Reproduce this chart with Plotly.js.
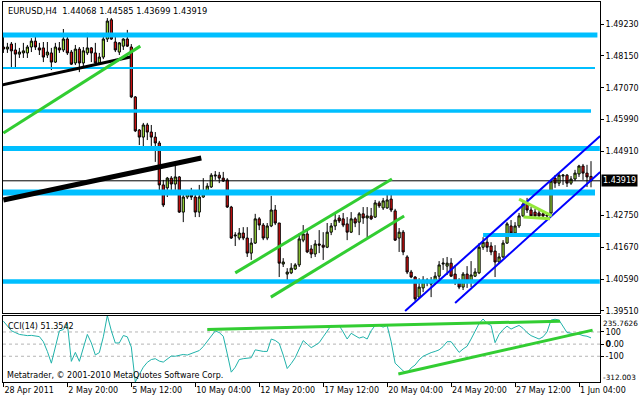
<!DOCTYPE html>
<html><head><meta charset="utf-8">
<script src="https://cdn.plot.ly/plotly-3.0.1.min.js"></script>
<style>html,body{margin:0;padding:0;background:#fff;overflow:hidden}#chart{width:640px;height:400px}</style>
</head><body><div id="chart"></div>
<script>
// ---------- data ----------
const symbolTitle = 'EURUSD,H4\u00a0\u00a01.44068 1.44585 1.43699 1.43919';
const open = [1.4845,1.4838,1.4855,1.4835,1.4821,1.4825,1.4825,1.4845,1.4865,1.4842,
1.4842,1.4818,1.4825,1.4794,1.4842,1.4835,1.4872,1.4828,1.4791,1.4838,
1.4791,1.4825,1.4842,1.4825,1.4791,1.4811,1.4872,1.4937,1.4862,1.4828,
1.4848,1.4872,1.4845,1.4676,1.4564,1.4540,1.4581,1.4557,1.4540,1.4520,
1.4378,1.4368,1.4401,1.4381,1.4405,1.4286,1.4337,1.4354,1.4337,1.4286,
1.4337,1.4351,1.4371,1.4408,1.4411,1.4401,1.4395,1.4303,1.4205,1.4198,
1.4215,1.4198,1.4147,1.4181,1.4263,1.4242,1.4198,1.4239,1.4293,1.4249,
1.4110,1.4076,1.4080,1.4093,1.4107,1.4191,1.4212,1.4161,1.4144,1.4178,
1.4174,1.4167,1.4218,1.4239,1.4266,1.4263,1.4246,1.4218,1.4263,1.4252,
1.4280,1.4266,1.4273,1.4269,1.4317,1.4300,1.4300,1.4330,1.4290,1.4198,
1.4218,1.4134,1.4083,1.4066,1.3998,1.4029,1.4056,1.4049,1.4046,1.4069,
1.4110,1.4103,1.4113,1.4076,1.4052,1.4032,1.4076,1.4052,1.4069,1.4080,
1.4167,1.4184,1.4171,1.4154,1.4117,1.4134,1.4181,1.4239,1.4215,1.4239,
1.4273,1.4313,1.4293,1.4286,1.4283,1.4280,1.4273,1.4283,1.4401,1.4384,
1.4408,1.4411,1.4384,1.4398,1.4415,1.4442,1.4418,1.44068];
const high = [1.4882,1.4859,1.4862,1.4859,1.4842,1.4859,1.4852,1.4875,1.4882,1.4859,
1.4862,1.4862,1.4842,1.4859,1.4862,1.4906,1.4879,1.4835,1.4852,1.4845,
1.4845,1.4893,1.4845,1.4859,1.4825,1.4879,1.4943,1.4943,1.4879,1.4862,
1.4875,1.4903,1.4855,1.4679,1.4567,1.4588,1.4588,1.4581,1.4557,1.4527,
1.4395,1.4405,1.4408,1.4446,1.4408,1.4344,1.4361,1.4368,1.4351,1.4378,
1.4401,1.4384,1.4418,1.4425,1.4422,1.4422,1.4401,1.4307,1.4218,1.4232,
1.4235,1.4235,1.4198,1.4280,1.4269,1.4249,1.4249,1.4341,1.4310,1.4249,
1.4130,1.4096,1.4113,1.4113,1.4215,1.4242,1.4225,1.4174,1.4191,1.4225,
1.4218,1.4249,1.4249,1.4283,1.4276,1.4283,1.4269,1.4286,1.4269,1.4286,
1.4303,1.4303,1.4300,1.4327,1.4324,1.4334,1.4344,1.4347,1.4297,1.4232,
1.4225,1.4140,1.4090,1.4069,1.4062,1.4069,1.4062,1.4066,1.4083,1.4120,
1.4130,1.4134,1.4130,1.4107,1.4062,1.4083,1.4103,1.4120,1.4096,1.4181,
1.4201,1.4201,1.4184,1.4174,1.4147,1.4191,1.4252,1.4259,1.4252,1.4283,
1.4320,1.4334,1.4303,1.4297,1.4293,1.4290,1.4286,1.4395,1.4411,1.4418,
1.4415,1.4415,1.4408,1.4429,1.4446,1.4449,1.4446,1.44585];
const low = [1.4825,1.4825,1.4777,1.4777,1.4808,1.4808,1.4808,1.4828,1.4835,1.4818,
1.4794,1.4808,1.4767,1.4791,1.4825,1.4828,1.4818,1.4784,1.4784,1.4760,
1.4780,1.4818,1.4794,1.4784,1.4784,1.4804,1.4862,1.4869,1.4828,1.4818,
1.4835,1.4845,1.4672,1.4557,1.4513,1.4507,1.4530,1.4510,1.4456,1.4351,
1.4303,1.4337,1.4361,1.4361,1.4283,1.4252,1.4330,1.4327,1.4269,1.4269,
1.4334,1.4344,1.4368,1.4395,1.4384,1.4388,1.4300,1.4195,1.4171,1.4191,
1.4191,1.4134,1.4124,1.4178,1.4225,1.4191,1.4191,1.4235,1.4242,1.4066,
1.4100,1.4046,1.4076,1.4090,1.4100,1.4184,1.4147,1.4130,1.4134,1.4147,
1.4124,1.4164,1.4208,1.4225,1.4249,1.4235,1.4191,1.4215,1.4235,1.4208,
1.4246,1.4201,1.4259,1.4266,1.4300,1.4293,1.4297,1.4286,1.4188,1.4151,
1.4140,1.4076,1.4062,1.3985,1.3992,1.4015,1.4035,1.3998,1.4039,1.4059,
1.4090,1.4073,1.4066,1.4039,1.4025,1.4022,1.4029,1.4032,1.4066,1.4076,
1.4158,1.4151,1.4140,1.4066,1.4110,1.4130,1.4178,1.4208,1.4205,1.4232,
1.4269,1.4283,1.4266,1.4266,1.4269,1.4266,1.4266,1.4280,1.4368,1.4374,
1.4378,1.4371,1.4378,1.4391,1.4405,1.4395,1.4371,1.43699];
const close = [1.4838,1.4845,1.4832,1.4821,1.4828,1.4832,1.4845,1.4865,1.4845,1.4835,
1.4811,1.4828,1.4794,1.4845,1.4835,1.4872,1.4825,1.4787,1.4838,1.4791,
1.4832,1.4842,1.4825,1.4791,1.4811,1.4872,1.4933,1.4872,1.4835,1.4859,
1.4872,1.4848,1.4676,1.4561,1.4540,1.4581,1.4557,1.4540,1.4520,1.4378,
1.4310,1.4401,1.4381,1.4405,1.4286,1.4337,1.4354,1.4337,1.4286,1.4337,
1.4347,1.4374,1.4411,1.4411,1.4401,1.4391,1.4303,1.4198,1.4208,1.4215,
1.4198,1.4147,1.4181,1.4263,1.4242,1.4198,1.4239,1.4293,1.4249,1.4113,
1.4117,1.4083,1.4096,1.4107,1.4195,1.4212,1.4151,1.4144,1.4178,1.4174,
1.4167,1.4218,1.4239,1.4259,1.4256,1.4242,1.4218,1.4263,1.4249,1.4280,
1.4266,1.4273,1.4263,1.4317,1.4307,1.4324,1.4327,1.4293,1.4191,1.4218,
1.4151,1.4083,1.4066,1.3992,1.4032,1.4056,1.4046,1.4042,1.4069,1.4107,
1.4113,1.4113,1.4069,1.4049,1.4032,1.4076,1.4049,1.4073,1.4083,1.4167,
1.4184,1.4167,1.4151,1.4117,1.4134,1.4181,1.4246,1.4215,1.4239,1.4273,
1.4313,1.4293,1.4273,1.4273,1.4273,1.4273,1.4276,1.4391,1.4384,1.4411,
1.4411,1.4384,1.4398,1.4418,1.4442,1.4418,1.4405,1.43919];
const cci = [189,150,110,95,80,75,70,72,68,62,
20,-60,-157,-20,109,120,169,-142,-68,-142,
-30,80,10,-89,-70,60,235.7626,110,9,10,
71,60,-24,-312.003,-250,-190,-150,-127,-120,-140,
-148,-120,-98,-100,-95,-85,-90,-77,-70,-53,
-20,20,65,109,95,65,-80,-231,-190,-127,
-120,-115,-112,-47,-55,-60,-60,42,30,6,
-90,-201,-160,-112,-40,29,0,-29,-10,12,
60,110,154,150,154,100,42,89,70,50,
60,42,110,154,154,140,154,20,-157,-190,
-220,-237,-196,-172,-130,-100,-83,-70,-60,-47,
-20,20,20,-20,-68,-40,-18,42,100,170,
207,170,154,12,80,120,148,124,140,154,
130,95,70,55,42,60,100,198,205,198,
150,95,90,80,82,70,65,51.3542];
const dateTickBars = [0,16,32,48,64,80,96,112,128,144];
const dateTickLabels = ['28 Apr 2011','2 May 20:00','5 May 12:00','10 May 04:00','12 May 20:00',
  '17 May 12:00','20 May 04:00','24 May 20:00','27 May 12:00','1 Jun 04:00'];
const priceTicks = [1.3951,1.4059,1.4167,1.4275,1.4491,1.4599,1.4707,1.4815,1.4923];
const priceTickLabels = ['1.39510','1.40590','1.41670','1.42750','1.44910','1.45990','1.47070','1.48150','1.49230'];
const lastPrice = 1.43919;
const cciMax = 235.7626, cciMin = -312.003;
const cciLevels = [100, 0, -100];
const cciLevelLabels = ['100', '<b>0</b>.00', '-100'];
// horizontal support / resistance levels (price, first bar, last bar)
const levelPrice = [1.4886, 1.4774, 1.4628, 1.4501, 1.4352, 1.4208, 1.4051];
const levelFrom  = [-1, -1, -1, -1, -1, 120, -1];
const levelTo    = [148.6, 148, 147, 149.2, 148, 149.2, 149.2];
// trend lines: [bar0, price0, bar1, price1]
const blackLines = [[-0.5, 1.4716, 31.75, 1.4811], [0, 1.4327, 49.5, 1.4469]];
const greenLines = [[0, 1.4554, 34.25, 1.4848], [58, 1.4080, 97.2, 1.4398], [66.9, 1.3998, 100.25, 1.4273]];
const blueLines  = [[100.5, 1.3951, 149.3, 1.4544], [113, 1.3978, 149.3, 1.4422]];
const triangleLines = [[129, 1.4330, 137.2, 1.4273], [130.1, 1.4269, 136.75, 1.4263]];
// CCI trend lines: [bar0, cci0, bar1, cci1]
const cciLines = [[51, 121, 139.25, 189], [98.8, -246, 147.4, 115]];

// ---------- chart ----------
const bars = open.map((_, i) => i);
const FONT = 'DejaVu Sans, Tahoma, sans-serif';
const px2paperX = p => (p - 3) / 597;
const px2paperY = p => (382 - p) / 380;

const traces = [
  {type: 'candlestick', x: bars, open: open, high: high, low: low, close: close,
   xaxis: 'x', yaxis: 'y',
   increasing: {line: {color: '#000', width: 1}, fillcolor: '#a6ea3a'},
   decreasing: {line: {color: '#000', width: 1}, fillcolor: '#de1010'},
   whiskerwidth: 0, hoverinfo: 'skip', showlegend: false},
  {type: 'scatter', mode: 'lines', x: bars, y: cci, xaxis: 'x2', yaxis: 'y2',
   line: {color: '#20b2aa', width: 1}, hoverinfo: 'skip', showlegend: false}
];

const shapes = [];
const levelWidths = [5, 2, 3.5, 5, 6, 4, 4.5];
levelPrice.forEach((p, k) => shapes.push({type: 'line', xref: 'x', yref: 'y',
  x0: levelFrom[k], x1: levelTo[k], y0: p, y1: p, line: {color: '#00bfff', width: levelWidths[k]}}));
shapes.push({type: 'line', xref: 'paper', yref: 'y', x0: 0, x1: 1, y0: lastPrice, y1: lastPrice,
  line: {color: '#000', width: 1}});
const addLines = (arr, color, width, xr, yr) => arr.forEach(l => shapes.push({type: 'line', xref: xr, yref: yr,
  x0: l[0], y0: l[1], x1: l[2], y1: l[3], line: {color: color, width: width}}));
addLines(blackLines.slice(0, 1), '#000', 3, 'x', 'y');
addLines(blackLines.slice(1), '#000', 5, 'x', 'y');
addLines(greenLines, '#32cd32', 3, 'x', 'y');
addLines(blueLines, '#0000ff', 2, 'x', 'y');
addLines(triangleLines, '#94e83a', 3, 'x', 'y');
cciLevels.forEach(v => shapes.push({type: 'line', xref: 'paper', yref: 'y2', x0: 0, x1: 1, y0: v, y1: v,
  line: {color: '#b4b4b4', width: 1, dash: '3px,3px'}, layer: 'below'}));
addLines(cciLines, '#32cd32', 3, 'x2', 'y2');

const annotations = [
  {text: symbolTitle, xref: 'paper', yref: 'paper', x: px2paperX(6), y: px2paperY(11),
   xanchor: 'left', yanchor: 'middle', showarrow: false, font: {family: FONT, size: 8.3, color: '#000'}},
  {text: 'CCI(14) 51.3542', xref: 'paper', yref: 'paper', x: px2paperX(6), y: px2paperY(326),
   xanchor: 'left', yanchor: 'middle', showarrow: false, font: {family: FONT, size: 8, color: '#000'}},
  {text: 'Metatrader, \u00a9 2001-2010 MetaQuotes Software Corp.', xref: 'paper', yref: 'paper',
   x: px2paperX(5), y: px2paperY(375), xanchor: 'left', yanchor: 'middle', showarrow: false,
   font: {family: FONT, size: 8, color: '#000'}},
  {text: String(cciMax), xref: 'paper', yref: 'paper', x: px2paperX(602), y: px2paperY(323),
   xanchor: 'left', yanchor: 'middle', showarrow: false, borderpad: 0, font: {family: FONT, size: 7.3, color: '#000'}},
  {text: String(cciMin), xref: 'paper', yref: 'paper', x: px2paperX(602), y: px2paperY(377),
   xanchor: 'left', yanchor: 'middle', showarrow: false, borderpad: 0, font: {family: FONT, size: 7.3, color: '#000'}},
  {text: lastPrice.toFixed(5), xref: 'paper', yref: 'y', x: px2paperX(601), y: lastPrice,
   xanchor: 'left', yanchor: 'middle', showarrow: false, bgcolor: '#000', borderpad: 1,
   font: {family: FONT, size: 8, color: '#fff'}}
];

const layout = {
  width: 640, height: 400,
  margin: {l: 3, r: 40, t: 2, b: 18},
  paper_bgcolor: '#fff', plot_bgcolor: '#fff',
  showlegend: false, hovermode: false, dragmode: false, boxgap: 0.22,
  xaxis: {anchor: 'y', domain: [0, 1], range: [-0.1, 149.25], showticklabels: false, ticks: '',
          showgrid: false, zeroline: false, showline: true, mirror: true, linecolor: '#000', linewidth: 1,
          rangeslider: {visible: false}, fixedrange: true},
  xaxis2: {anchor: 'y2', matches: 'x', domain: [0, 1], range: [-0.1, 149.25],
           tickmode: 'array', tickvals: dateTickBars, ticktext: dateTickLabels,
           ticks: 'outside', ticklen: 4, tickcolor: '#000', ticklabelposition: 'outside right',
           tickfont: {family: FONT, size: 8, color: '#000'},
           showgrid: false, zeroline: false, showline: true, mirror: true, linecolor: '#000', linewidth: 1,
           rangeslider: {visible: false}, fixedrange: true},
  yaxis: {anchor: 'x', domain: [(382 - 313) / 380, 1], range: [1.39442, 1.49975], side: 'right',
          tickmode: 'array', tickvals: priceTicks, ticktext: priceTickLabels,
          ticks: 'outside', ticklen: 3, tickcolor: '#000',
          tickfont: {family: FONT, size: 8, color: '#000'},
          showgrid: false, zeroline: false, showline: true, mirror: true, linecolor: '#000', linewidth: 1, fixedrange: true},
  yaxis2: {anchor: 'x2', domain: [0, (382 - 315.5) / 380], range: [cciMin, cciMax], side: 'right',
           tickmode: 'array', tickvals: cciLevels, ticktext: cciLevelLabels,
           ticks: 'outside', ticklen: 3, tickcolor: '#000',
           tickfont: {family: FONT, size: 8, color: '#000'},
           showgrid: false, zeroline: false, showline: true, mirror: true, linecolor: '#000', linewidth: 1, fixedrange: true},
  shapes: shapes,
  annotations: annotations
};

Plotly.newPlot('chart', traces, layout, {staticPlot: true, displayModeBar: false});
</script>
</body></html>
